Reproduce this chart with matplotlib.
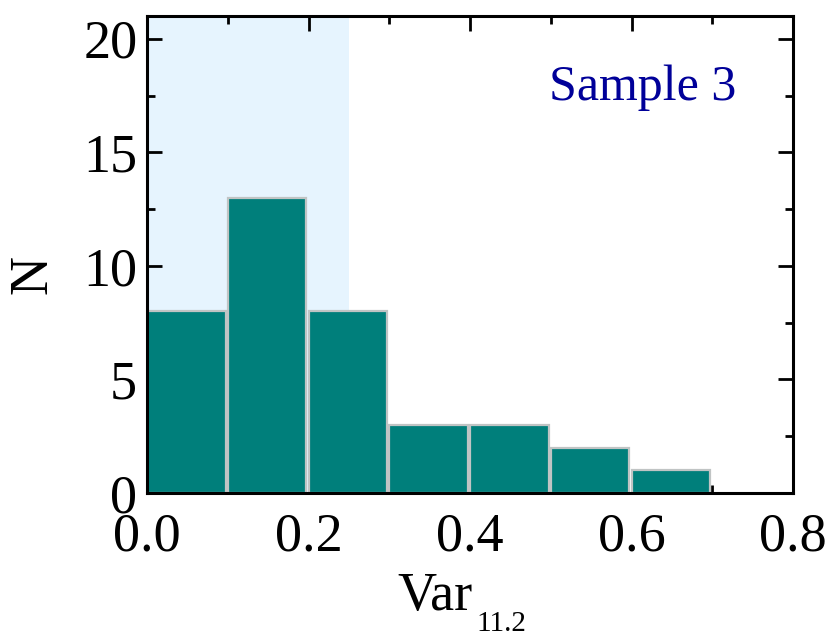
import numpy as np
import matplotlib
matplotlib.use("Agg")
import matplotlib.pyplot as plt
from matplotlib.ticker import MultipleLocator

plt.rcParams['font.family'] = ['Liberation Serif', 'DejaVu Serif']

# histogram data
bin_left = [0.0, 0.1, 0.2, 0.3, 0.4, 0.5, 0.6]
counts = [8, 13, 8, 3, 3, 2, 1]
bin_width = 0.1
shade_range = (0.0, 0.25)

W, H = 830, 639
fig = plt.figure(figsize=(W / 100, H / 100), dpi=100)
ax = fig.add_axes([147 / W, 1 - 493 / H, 646 / W, 477 / H])

ax.axvspan(shade_range[0], shade_range[1], color='#e6f4fe', zorder=0, lw=0)
ax.bar(bin_left, counts, width=bin_width * 0.975, align='edge',
       color='#007f7b', edgecolor='#c0c4c4', linewidth=1.6, zorder=2)

ax.set_xlim(0, 0.8)
ax.set_ylim(0, 21)
ax.xaxis.set_major_locator(MultipleLocator(0.2))
ax.xaxis.set_minor_locator(MultipleLocator(0.1))
ax.yaxis.set_major_locator(MultipleLocator(5))
ax.yaxis.set_minor_locator(MultipleLocator(2.5))
ax.xaxis.set_major_formatter(plt.FuncFormatter(lambda v, p: f"{v:.1f}"))

ax.tick_params(which='both', direction='in', top=True, right=True,
               width=2.0, labelsize=39)
ax.tick_params(axis='x', pad=14)
ax.tick_params(axis='y', pad=7)
ax.tick_params(which='major', length=11)
ax.tick_params(which='minor', length=6)
for s in ax.spines.values():
    s.set_linewidth(2.2)
    s.set_zorder(5)

# axis labels (Var with a lowered subscript, as in the original)
fig.text(472 / W, 1 - 610 / H, 'Var', fontsize=39, ha='right', va='baseline')
fig.text(476 / W, 1 - 631 / H, '11.2', fontsize=21, ha='left', va='baseline')
fig.text(33 / W, 1 - 275 / H, 'N', fontsize=39, rotation=90,
         ha='center', va='center')

ax.text(0.768, 0.849, 'Sample 3', transform=ax.transAxes, fontsize=36,
        color='#000099', ha='center', va='center')

fig.savefig('out.png', dpi=100)
